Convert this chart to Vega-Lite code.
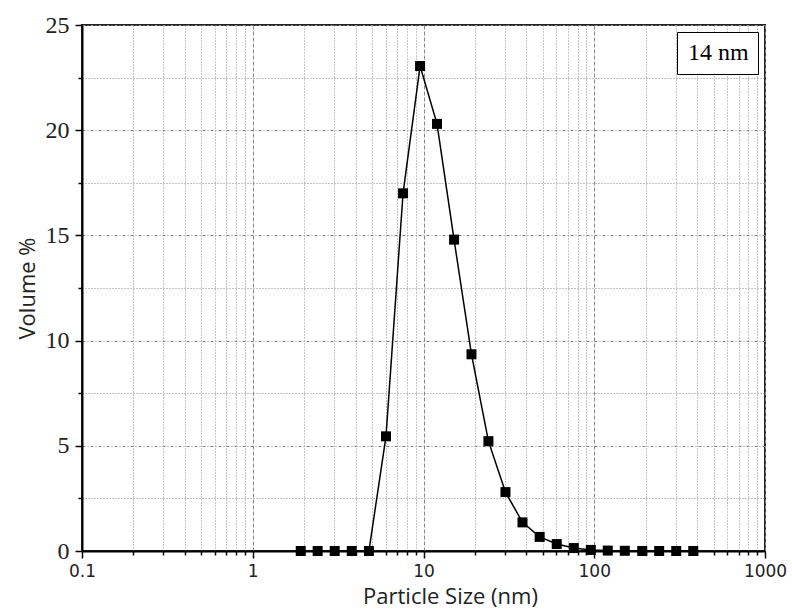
{
  "$schema": "https://vega.github.io/schema/vega-lite/v6.json",
  "width": 683,
  "height": 526,
  "autosize": "none",
  "padding": {"left": 82, "top": 25, "right": 27, "bottom": 62},
  "background": "white",
  "config": {
    "view": {"stroke": "#222", "strokeWidth": 2},
    "axis": {
      "domainColor": "black",
      "domainWidth": 2,
      "tickColor": "black",
      "tickWidth": 1.5,
      "gridColor": "#888",
      "gridWidth": 1,
      "gridOpacity": 1,
      "labelColor": "#222",
      "titleColor": "#222",
      "titleFontWeight": "normal"
    }
  },
  "data": {
    "values": [
      {"size": 1.91, "volume": 0, "series": "14 nm"},
      {"size": 2.40, "volume": 0, "series": "14 nm"},
      {"size": 3.02, "volume": 0, "series": "14 nm"},
      {"size": 3.80, "volume": 0, "series": "14 nm"},
      {"size": 4.79, "volume": 0, "series": "14 nm"},
      {"size": 6.03, "volume": 5.45, "series": "14 nm"},
      {"size": 7.59, "volume": 17.0, "series": "14 nm"},
      {"size": 9.55, "volume": 23.05, "series": "14 nm"},
      {"size": 12.0, "volume": 20.3, "series": "14 nm"},
      {"size": 15.1, "volume": 14.8, "series": "14 nm"},
      {"size": 19.1, "volume": 9.35, "series": "14 nm"},
      {"size": 24.0, "volume": 5.22, "series": "14 nm"},
      {"size": 30.2, "volume": 2.8, "series": "14 nm"},
      {"size": 38.0, "volume": 1.36, "series": "14 nm"},
      {"size": 47.9, "volume": 0.67, "series": "14 nm"},
      {"size": 60.3, "volume": 0.33, "series": "14 nm"},
      {"size": 75.9, "volume": 0.14, "series": "14 nm"},
      {"size": 95.5, "volume": 0.05, "series": "14 nm"},
      {"size": 120, "volume": 0.02, "series": "14 nm"},
      {"size": 151, "volume": 0.01, "series": "14 nm"},
      {"size": 191, "volume": 0, "series": "14 nm"},
      {"size": 240, "volume": 0, "series": "14 nm"},
      {"size": 302, "volume": 0, "series": "14 nm"},
      {"size": 380, "volume": 0, "series": "14 nm"}
    ]
  },
  "encoding": {
    "x": {
      "field": "size",
      "type": "quantitative",
      "scale": {"type": "log", "domain": [0.1, 1000], "nice": false},
      "axis": {
        "title": "Particle Size (nm)",
        "titleFont": "Open Sans",
        "titleFontSize": 22,
        "titlePadding": 7,
        "titleX": 368,
        "labelFont": "DejaVu Sans",
        "labelFontSize": 17,
        "labelPadding": 5,
        "labelFlush": false,
        "labelOverlap": false,
        "values": [0.1,0.2,0.3,0.4,0.5,0.6,0.7,0.8,0.9,1,2,3,4,5,6,7,8,9,10,20,30,40,50,60,70,80,90,100,200,300,400,500,600,700,800,900,1000],
        "labelExpr": "abs(log(datum.value)/LN10 - round(log(datum.value)/LN10)) < 0.000001 ? format(datum.value, '~g') : ''",
        "tickSize": {"condition": {"test": "abs(log(datum.value)/LN10 - round(log(datum.value)/LN10)) < 0.000001", "value": 7}, "value": 4},
        "gridDash": {"condition": {"test": "abs(log(datum.value)/LN10 - round(log(datum.value)/LN10)) < 0.000001", "value": [4, 2]}, "value": [1, 2]}
      }
    },
    "y": {
      "field": "volume",
      "type": "quantitative",
      "scale": {"domain": [0, 25], "nice": false, "zero": true},
      "axis": {
        "title": "Volume %",
        "titleFont": "Open Sans",
        "titleFontSize": 22,
        "titlePadding": 6,
        "labelFont": "Liberation Serif",
        "labelFontSize": 24,
        "labelPadding": 6,
        "labelFlush": false,
        "labelOverlap": false,
        "values": [0, 2.5, 5, 7.5, 10, 12.5, 15, 17.5, 20, 22.5, 25],
        "labelExpr": "datum.value % 5 == 0 ? format(datum.value, 'd') : ''",
        "tickSize": {"condition": {"test": "datum.value % 5 == 0", "value": 7}, "value": 4},
        "gridDash": {"condition": {"test": "datum.value % 5 == 0", "value": [3, 2, 1, 2]}, "value": [1, 2]}
      }
    },
    "color": {
      "field": "series",
      "type": "nominal",
      "scale": {"range": ["black"]},
      "legend": {
        "title": null,
        "orient": "top-right",
        "offset": 7,
        "padding": 9,
        "strokeColor": "black",
        "fillColor": "white",
        "symbolOpacity": 0,
        "symbolSize": 0,
        "symbolStrokeWidth": 0,
        "labelOffset": -22,
        "labelFont": "Liberation Serif",
        "labelFontSize": 24,
        "labelColor": "black"
      }
    }
  },
  "layer": [
    {"mark": {"type": "line", "strokeWidth": 1.5}},
    {"mark": {"type": "square", "size": 100, "filled": true, "opacity": 1}}
  ]
}
